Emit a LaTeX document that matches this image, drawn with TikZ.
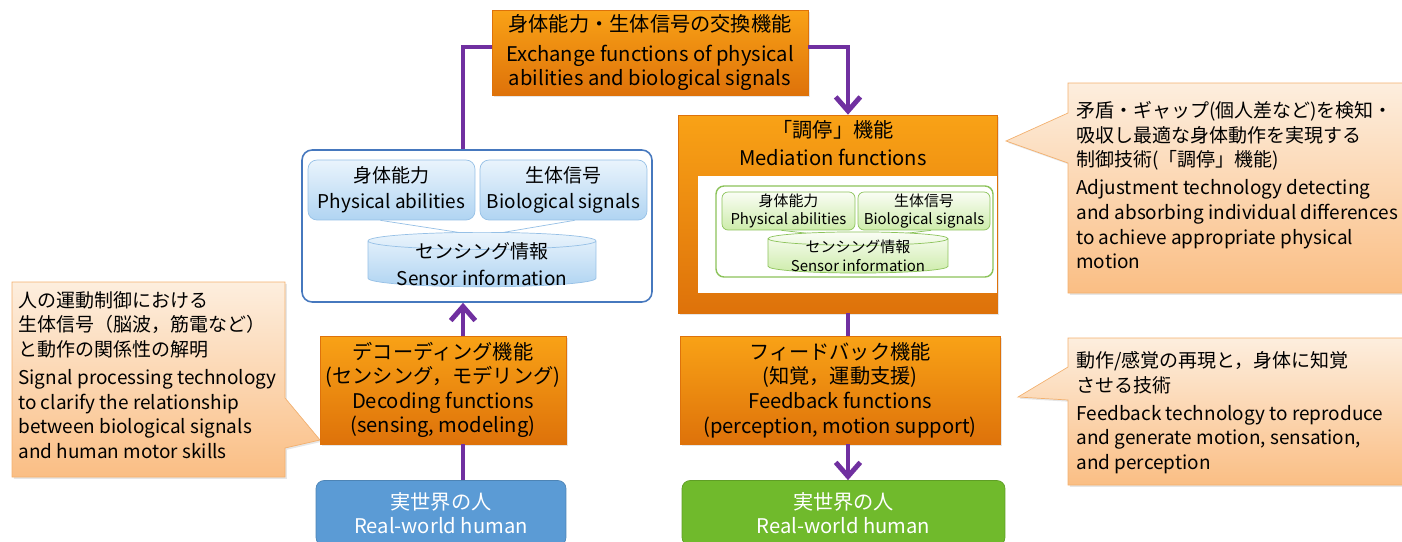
\documentclass[tikz,border=0pt]{standalone}
\usepackage{fontspec}
\setmainfont{Noto Sans CJK JP}
\usetikzlibrary{arrows.meta,shapes.geometric,shadows,positioning}

\definecolor{funcTop}{RGB}{249,162,22}
\definecolor{funcBot}{RGB}{222,114,10}
\definecolor{noteTop}{RGB}{253,238,222}
\definecolor{noteBot}{RGB}{250,190,132}
\definecolor{noteLine}{RGB}{243,176,110}
\definecolor{flowPurple}{RGB}{112,48,160}
\definecolor{sensLine}{RGB}{70,120,190}
\definecolor{infoTop}{RGB}{234,244,252}
\definecolor{infoBot}{RGB}{176,212,242}
\definecolor{infoLine}{RGB}{150,192,230}
\definecolor{medLine}{RGB}{140,195,90}
\definecolor{medTop}{RGB}{250,253,245}
\definecolor{medBot}{RGB}{205,236,170}
\definecolor{humanBlue}{RGB}{91,155,213}
\definecolor{humanGreen}{RGB}{112,186,44}

\newcommand{\bigfont}{\fontsize{11.5}{14}\selectfont}
\newcommand{\notefont}{\fontsize{10.8}{14}\selectfont}
\newcommand{\smallfont}{\fontsize{8.5}{10.5}\selectfont}

\tikzset{
  func/.style={rectangle, top color=funcTop, bottom color=funcBot, draw=funcBot,
    align=center, inner sep=0pt, font=\bigfont,
    drop shadow={opacity=0.2, shadow xshift=1pt, shadow yshift=-1pt}},
  note/.style={top color=noteTop, bottom color=noteBot, draw=noteLine,
    drop shadow={opacity=0.2, shadow xshift=1pt, shadow yshift=-1pt}},
  notetext/.style={anchor=north west, align=left, inner sep=0pt, font=\notefont},
  info/.style={rounded corners=0.18cm, top color=infoTop, bottom color=infoBot,
    draw=infoLine, align=center, inner sep=0pt, font=\notefont},
  ginfo/.style={rounded corners=0.12cm, top color=medTop, bottom color=medBot,
    draw=medLine, align=center, inner sep=0pt, font=\smallfont},
  drum/.style={cylinder, shape border rotate=90, aspect=0.1, rounded corners=0pt,
    inner ysep=-4pt},
  human/.style={rounded corners=0.16cm, draw=#1!85!black, fill=#1, text=white,
    align=center, inner sep=0pt, font=\bigfont},
  flow/.style={draw=flowPurple, line width=2.8pt},
  flowtip/.style={flow, -{Straight Barb[length=8pt,width=14pt]}}
}

\begin{document}
\begin{tikzpicture}[x=0.02cm, y=-0.02cm]
    \useasboundingbox (0,0) rectangle (1402,541);

    % columns of the purple flow
    \coordinate (lcol) at (463,0);
    \coordinate (rcol) at (848,0);

    %% Callouts
    \path[note] (12,282) -- (285,282) -- (285,398) -- (320,440) -- (285,448)
        -- (285,477) -- (12,477) -- cycle;
    \node[notetext] (noteL) at (18,291) {人の運動制御における\\生体信号（脳波，筋電など）\\と動作の関係性の解明\\[2pt]
        Signal processing technology\\to clarify the relationship\\between biological signals\\and human motor skills};

    \path[note] (1068,83) -- (1406,83) -- (1406,293) -- (1068,293) -- (1068,163)
        -- (1006,141) -- (1068,113) -- cycle;
    \node[notetext] (noteR) at (1076,101) {矛盾・ギャップ(個人差など)を検知・\\吸収し最適な身体動作を実現する\\制御技術(「調停」機能)\\[2pt]
        Adjustment technology detecting\\and absorbing individual differences\\to achieve appropriate physical\\motion};

    \path[note] (1068,338) -- (1406,338) -- (1406,485) -- (1068,485) -- (1068,400)
        -- (1018,397) -- (1068,367) -- cycle;
    \node[notetext] (noteF) at (1076,351) {動作/感覚の再現と，身体に知覚\\させる技術\\[2pt]
        Feedback technology to reproduce\\and generate motion, sensation,\\and perception};

    %% Exchange functions
    \node[func, minimum width=6.32cm, minimum height=1.7cm] (exch) at (650,52.5)
        {身体能力・生体信号の交換機能\\[3pt]Exchange functions of physical\\abilities and biological signals};

    %% Sensing block
    \node[draw=sensLine, line width=0.9pt, fill=white, rounded corners=0.2cm,
        minimum width=7cm, minimum height=3.04cm] (sens) at (477,226) {};
    \node[info, minimum width=3.34cm, minimum height=1.2cm] (abil) at (391.5,190)
        {身体能力\\[1pt]Physical abilities};
    \node[info, minimum width=3.34cm, minimum height=1.2cm] (bio) at (563.5,190)
        {生体信号\\[1pt]Biological signals};
    \draw[infoLine] (abil.250) -- (482,236) -- (bio.290);
    \node[info, drum, minimum width=4.56cm, minimum height=1.06cm] (sensor) at (482,264)
        {センシング情報\\[1pt]Sensor information};

    %% Mediation block
    \node[func, minimum width=6.38cm, minimum height=3.96cm] (med) at (837.5,214) {};
    \node[font=\bigfont, align=center, inner sep=0pt] (medtitle) at (833,143)
        {「調停」機能\\[2pt]Mediation functions};
    \fill[white] (698,176) rectangle (997,293);
    \node[draw=medLine, line width=0.8pt, fill=white, rounded corners=0.16cm,
        minimum width=5.54cm, minimum height=1.82cm] (gbox) at (854.5,231.5) {};
    \node[ginfo, minimum width=2.66cm, minimum height=0.76cm] (gabil) at (788.5,211)
        {身体能力\\Physical abilities};
    \node[ginfo, minimum width=2.64cm, minimum height=0.76cm] (gbio) at (924,211)
        {生体信号\\Biological signals};
    \draw[medLine] (gabil.250) -- (858,239) -- (gbio.290);
    \node[ginfo, drum, inner ysep=-3pt, minimum width=3.6cm, minimum height=0.72cm] (gsensor) at (858,256)
        {センシング情報\\Sensor information};

    %% Decoding / Feedback
    \node[func, minimum width=4.92cm, minimum height=2.16cm] (dec) at (443,390)
        {デコーディング機能\\(センシング，モデリング)\\Decoding functions\\(sensing, modeling)};
    \node[func, minimum width=6.4cm, minimum height=2.16cm] (fb) at (840,390)
        {フィードバック機能\\(知覚，運動支援)\\Feedback functions\\(perception, motion support)};

    %% Real-world humans
    \node[human=humanBlue, minimum width=5cm, minimum height=1.3cm] (humanL) at (441,513)
        {実世界の人\\[0pt]Real-world human};
    \node[human=humanGreen, minimum width=6.46cm, minimum height=1.3cm] (humanR) at (843.5,513)
        {実世界の人\\[0pt]Real-world human};

    %% Flow
    \draw[flow] ([yshift=0.11cm]exch.west) -| (lcol |- sens.north);
    \draw[flowtip] ([yshift=0.11cm]exch.east) -| (rcol |- med.north);
    \draw[flowtip] (lcol |- dec.north) -- (lcol |- sens.south);
    \draw[flow] (lcol |- humanL.north) -- (lcol |- dec.south);
    \draw[flow] (rcol |- med.south) -- (rcol |- fb.north);
    \draw[flowtip] (rcol |- fb.south) -- (rcol |- humanR.north);

\end{tikzpicture}
\end{document}
